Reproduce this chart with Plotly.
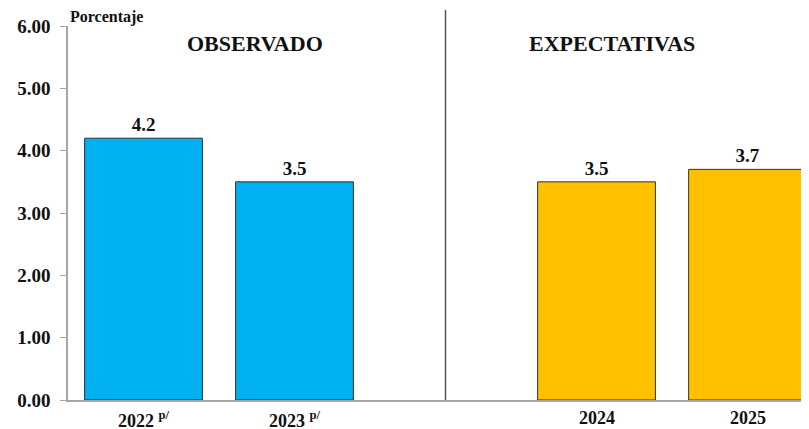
import plotly.graph_objects as go

obs_pos = [0, 1]
obs_vals = [4.2, 3.5]
exp_pos = [3, 4]
exp_vals = [3.5, 3.7]
tick_pos = [0, 1, 3, 4]
tick_labels = ["2022 <sup>p/</sup>", "2023 <sup>p/</sup>", "2024", "2025"]
y_ticks = [0, 1, 2, 3, 4, 5, 6]
y_labels = ["0.00", "1.00", "2.00", "3.00", "4.00", "5.00", "6.00"]

FONT = "Liberation Serif"
fig = go.Figure()
for pos, vals, col in [(obs_pos, obs_vals, "#00B0F0"), (exp_pos, exp_vals, "#FFC000")]:
    fig.add_trace(go.Bar(x=pos, y=vals, width=0.78,
                         marker=dict(color=col, line=dict(color="#333333", width=1)),
                         text=[f"<b>{v:.1f}</b>" for v in vals], textposition="outside", cliponaxis=False,
                         textfont=dict(family=FONT, size=19, color="#111111")))

fig.update_layout(
    width=801, height=421, margin=dict(l=60, r=0, t=18, b=29, autoexpand=False),
    plot_bgcolor="white", paper_bgcolor="white", showlegend=False,
    font=dict(family=FONT, color="#111111"),
    xaxis=dict(range=[-0.5, 4.407], tickvals=tick_pos, ticktext=["" for _ in tick_pos], showgrid=False,
               showline=True, linecolor="#A6A6A6", linewidth=1.5, ticks="", automargin=False,
               zeroline=False),
    yaxis=dict(range=[0, 6], tickvals=y_ticks, ticktext=[f"<b>{t}</b>" for t in y_labels], showgrid=False,
               showline=True, linecolor="#A6A6A6", linewidth=1.5, ticks="outside", ticklen=6,
               tickcolor="#A6A6A6", tickfont=dict(family=FONT, size=19, color="#111111"),
               zeroline=False, automargin=False, ticklabelstandoff=6),
)
for p, lab in zip(tick_pos, tick_labels):
    fig.add_annotation(text=f"<b>{lab}</b>", xref="x", yref="paper", x=p, y=0, yanchor="top",
                       yshift=-6, showarrow=False, font=dict(family=FONT, size=18, color="#111111"))
fig.add_shape(type="line", xref="x", yref="paper", x0=2, x1=2, y0=0, y1=1.043,
              line=dict(color="#555555", width=1.5))
fig.add_annotation(text="<b>Porcentaje</b>", xref="paper", yref="paper", x=0, y=1.0, xanchor="left", yanchor="bottom",
                   yshift=-2, showarrow=False, font=dict(family=FONT, size=16, color="#111111"))
fig.add_annotation(text="<b>OBSERVADO</b>", xref="x", yref="y", x=0.74, y=5.72, showarrow=False,
                   font=dict(family=FONT, size=22, color="#111111"))
fig.add_annotation(text="<b>EXPECTATIVAS</b>", xref="x", yref="y", x=3.1, y=5.72, showarrow=False,
                   font=dict(family=FONT, size=22, color="#111111"))
fig.write_html("out.html")
